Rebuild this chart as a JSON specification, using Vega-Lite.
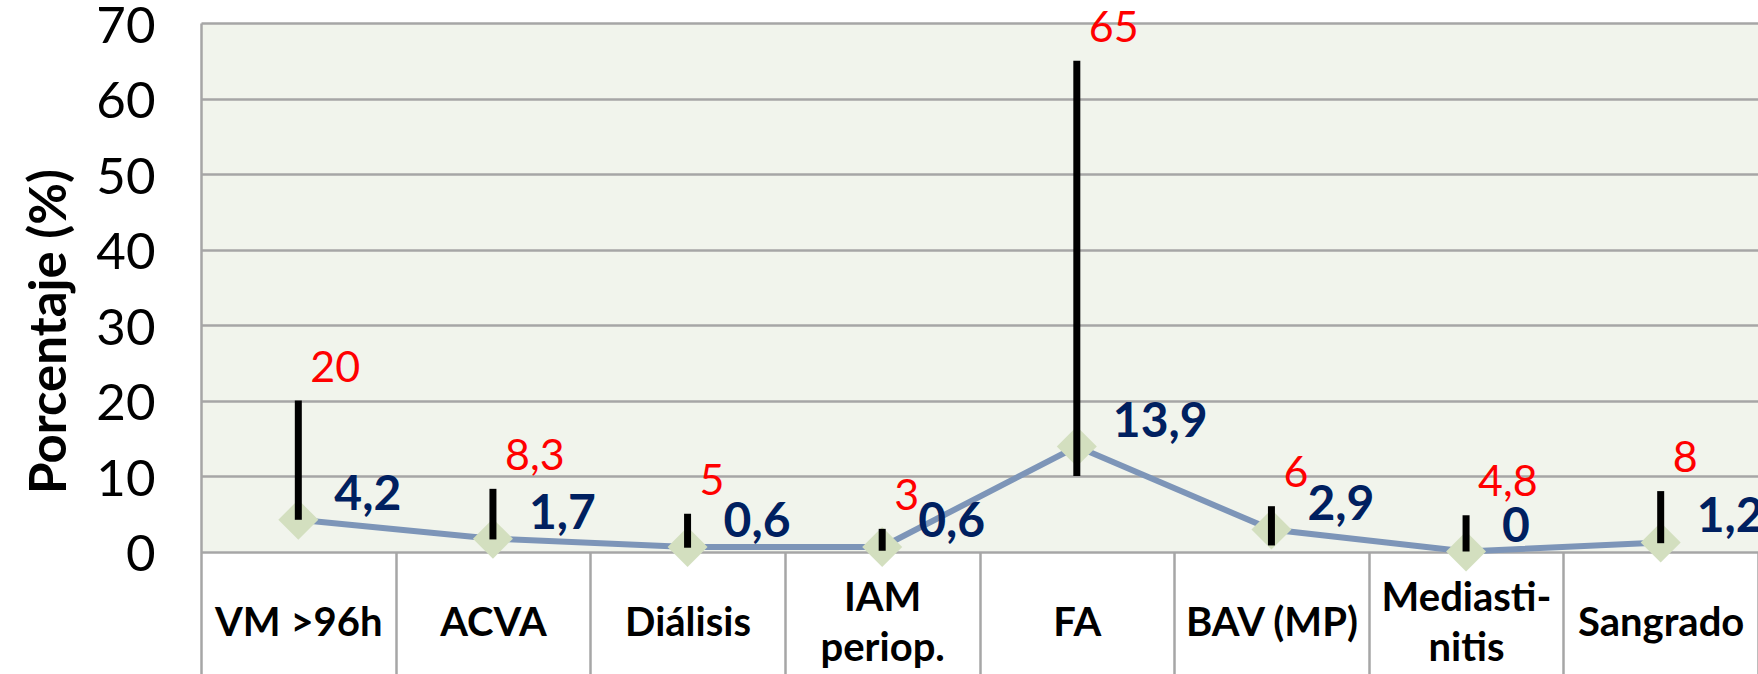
{
  "$schema": "https://vega.github.io/schema/vega-lite/v6.json",
  "width": 1557,
  "height": 528.5,
  "autosize": {"type": "none"},
  "padding": {"left": 201, "top": 23, "right": 0, "bottom": 122.5},
  "background": "white",
  "config": {
    "view": {"fill": "#f1f4ec", "stroke": null},
    "locale": {"number": {"decimal": ",", "thousands": ".", "grouping": [3], "currency": ["", " €"]}},
    "font": "Lato"
  },
  "data": {
    "values": [
      {"complicacion": "VM >96h", "media": 4.2, "lo": 4.2, "hi": 20},
      {"complicacion": "ACVA", "media": 1.7, "lo": 1.6, "hi": 8.3},
      {"complicacion": "Diálisis", "media": 0.6, "lo": 0.5, "hi": 5},
      {"complicacion": "IAM periop.", "media": 0.6, "lo": 0.1, "hi": 3},
      {"complicacion": "FA", "media": 13.9, "lo": 10, "hi": 65},
      {"complicacion": "BAV (MP)", "media": 2.9, "lo": 0.8, "hi": 6},
      {"complicacion": "Mediastinitis", "media": 0, "lo": 0, "hi": 4.8},
      {"complicacion": "Sangrado", "media": 1.2, "lo": 1.1, "hi": 8}
    ]
  },
  "encoding": {
    "x": {
      "field": "complicacion",
      "type": "nominal",
      "sort": null,
      "scale": {"type": "band", "paddingInner": 0, "paddingOuter": 0},
      "axis": {
        "title": null,
        "domain": false,
        "ticks": true,
        "tickBand": "extent",
        "tickSize": 123,
        "tickColor": "#a6a6a6",
        "tickWidth": 2.5,
        "labelFont": "Lato",
        "labelFontWeight": "bold",
        "labelFontSize": 40,
        "labelColor": "black",
        "labelPadding": -76,
        "labelBaseline": "middle",
        "labelLineHeight": 25,
        "labelAngle": 0,
        "labelOverlap": false,
        "labelExpr": "datum.label == 'IAM periop.' ? ['IAM', '\u200b', 'periop.'] : datum.label == 'Mediastinitis' ? ['Mediasti-', '\u200b', 'nitis'] : [' ', datum.label]"
      }
    }
  },
  "layer": [
    {
      "mark": {"type": "line", "color": "#7d95b8", "strokeWidth": 6},
      "encoding": {
        "y": {
          "field": "media",
          "type": "quantitative",
          "title": "Porcentaje (%)",
          "scale": {"domain": [0, 70], "nice": false},
          "axis": {
            "title": "Porcentaje (%)",
            "values": [0, 10, 20, 30, 40, 50, 60, 70],
            "format": "d",
            "grid": true,
            "gridColor": "#a6a6a6",
            "gridWidth": 2.5,
            "domain": true,
            "domainColor": "#a6a6a6",
            "domainWidth": 2.5,
            "ticks": false,
            "labelFont": "Lato",
            "labelFontSize": 51,
            "labelColor": "black",
            "labelPadding": 46,
            "labelBaseline": "middle",
            "labelOffset": 4,
            "titleFont": "Lato",
            "titleFontWeight": "bold",
            "titleFontSize": 51,
            "titleColor": "black",
            "titleAngle": -90,
            "titleX": -151,
            "titleY": 308,
            "titleAlign": "center",
            "titleBaseline": "middle"
          }
        }
      }
    },
    {
      "mark": {"type": "point", "shape": "diamond", "filled": true, "size": 1600, "color": "#d3dfbf", "opacity": 1},
      "encoding": {
        "y": {"field": "media", "type": "quantitative", "title": "Porcentaje (%)"}
      }
    },
    {
      "mark": {"type": "rule", "color": "black", "strokeWidth": 7},
      "encoding": {
        "y": {"field": "lo", "type": "quantitative", "title": "Porcentaje (%)"},
        "y2": {"field": "hi"}
      }
    },
    {
      "mark": {"type": "text", "align": "left", "baseline": "middle", "dx": 36, "dy": -24, "font": "Lato", "fontWeight": "bold", "fontSize": 48, "color": "#002060"},
      "encoding": {
        "y": {"field": "media", "type": "quantitative", "title": "Porcentaje (%)"},
        "text": {"field": "media", "type": "quantitative", "format": "~g"}
      }
    },
    {
      "mark": {"type": "text", "align": "left", "baseline": "middle", "dx": 12, "dy": -32, "font": "Lato", "fontSize": 43, "color": "#ff0000"},
      "encoding": {
        "y": {"field": "hi", "type": "quantitative", "title": "Porcentaje (%)"},
        "text": {"field": "hi", "type": "quantitative", "format": "~g"}
      }
    }
  ]
}
